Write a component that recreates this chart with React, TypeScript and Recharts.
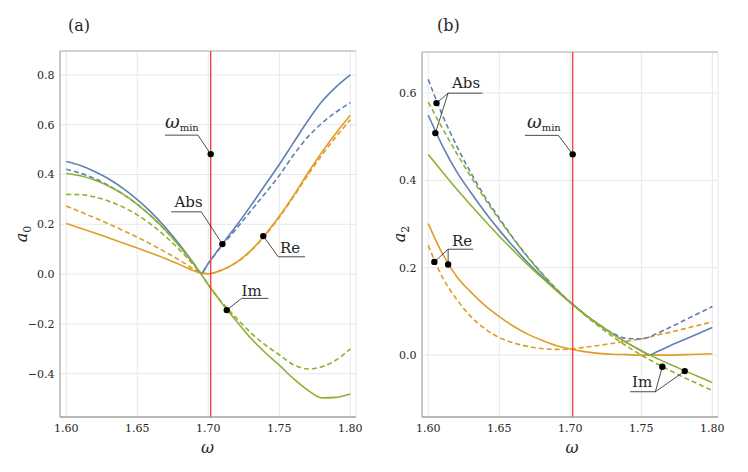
import React from "react";
import { LineChart, Line, XAxis, YAxis, CartesianGrid, ReferenceLine, ReferenceDot } from "recharts";

const BLUE = "#5e81b5";
const ORANGE = "#e19c24";
const GREEN = "#8fb131";
const FRAME = "#9c9c9c";
const RED = "#f23a3a";
const INK = "#262626";
const SERIF = "\"DejaVu Serif\"";

const omegaMin = 1.7017;

// panel (a): a0
const omegaA = [1.6, 1.61, 1.62, 1.63, 1.64, 1.65, 1.66, 1.67, 1.68, 1.69, 1.695, 1.7, 1.71, 1.72, 1.73, 1.74, 1.75, 1.76, 1.77, 1.78, 1.79, 1.8];
const reSolidA = [0.203, 0.184, 0.165, 0.145, 0.125, 0.105, 0.084, 0.062, 0.038, 0.013, 0.004, 0.001, 0.017, 0.048, 0.095, 0.158, 0.232, 0.315, 0.405, 0.49, 0.567, 0.638];
const reDashedA = [0.273, 0.25, 0.226, 0.201, 0.175, 0.148, 0.119, 0.088, 0.055, 0.02, 0.006, 0.001, 0.017, 0.047, 0.093, 0.155, 0.228, 0.31, 0.397, 0.478, 0.552, 0.62];
const imSolidA = [0.404, 0.395, 0.378, 0.353, 0.321, 0.28, 0.232, 0.175, 0.111, 0.039, 0.0, -0.043, -0.12, -0.19, -0.258, -0.315, -0.366, -0.42, -0.466, -0.497, -0.495, -0.482];
const imDashedA = [0.32, 0.319, 0.31, 0.293, 0.269, 0.238, 0.198, 0.151, 0.096, 0.034, 0.0, -0.043, -0.116, -0.178, -0.236, -0.284, -0.324, -0.364, -0.381, -0.372, -0.345, -0.3];
const absSolidA = [0.452, 0.436, 0.412, 0.382, 0.344, 0.299, 0.247, 0.186, 0.117, 0.041, 0.004, 0.043, 0.121, 0.196, 0.275, 0.358, 0.44, 0.528, 0.615, 0.693, 0.752, 0.8];
const absDashedA = [0.421, 0.405, 0.384, 0.355, 0.321, 0.28, 0.231, 0.175, 0.111, 0.039, 0.006, 0.043, 0.117, 0.184, 0.254, 0.324, 0.396, 0.478, 0.55, 0.606, 0.651, 0.689];

// panel (b): a2
const omegaB = [1.6, 1.61, 1.62, 1.63, 1.64, 1.65, 1.66, 1.67, 1.68, 1.69, 1.7, 1.71, 1.72, 1.73, 1.74, 1.75, 1.756, 1.76, 1.77, 1.78, 1.79, 1.8];
const reSolidB = [0.301, 0.232, 0.18, 0.144, 0.113, 0.088, 0.066, 0.048, 0.034, 0.022, 0.014, 0.008, 0.004, 0.002, 0.001, 0.0, 0.0, 0.0, 0.0, 0.001, 0.002, 0.003];
const reDashedB = [0.251, 0.178, 0.128, 0.088, 0.06, 0.04, 0.028, 0.02, 0.015, 0.013, 0.0135, 0.018, 0.022, 0.027, 0.032, 0.037, 0.041, 0.045, 0.052, 0.06, 0.068, 0.076];
const imSolidB = [0.459, 0.419, 0.38, 0.343, 0.307, 0.272, 0.239, 0.207, 0.177, 0.148, 0.12, 0.094, 0.07, 0.048, 0.028, 0.01, 0.0, -0.006, -0.021, -0.035, -0.049, -0.063];
const imDashedB = [0.579, 0.519, 0.462, 0.408, 0.357, 0.31, 0.266, 0.224, 0.186, 0.151, 0.12, 0.092, 0.066, 0.042, 0.02, 0.0, -0.011, -0.018, -0.035, -0.051, -0.066, -0.081];
const absSolidB = [0.549, 0.479, 0.42, 0.372, 0.327, 0.286, 0.248, 0.212, 0.18, 0.15, 0.121, 0.094, 0.07, 0.048, 0.028, 0.01, 0.0, 0.006, 0.021, 0.035, 0.049, 0.063];
const absDashedB = [0.631, 0.549, 0.479, 0.417, 0.362, 0.313, 0.267, 0.225, 0.187, 0.152, 0.121, 0.094, 0.07, 0.05, 0.038, 0.037, 0.042, 0.048, 0.063, 0.079, 0.095, 0.111];

// ticks
const xMajor = [1.6, 1.65, 1.7, 1.75, 1.8];
const xMinor = [1.6, 1.61, 1.62, 1.63, 1.64, 1.65, 1.66, 1.67, 1.68, 1.69, 1.7, 1.71, 1.72, 1.73, 1.74, 1.75, 1.76, 1.77, 1.78, 1.79, 1.8];
const yMajorA = [-0.4, -0.2, 0, 0.2, 0.4, 0.6, 0.8];
const yMinorA = [-0.55, -0.5, -0.45, -0.4, -0.35, -0.3, -0.25, -0.2, -0.15, -0.1, -0.05, 0, 0.05, 0.1, 0.15, 0.2, 0.25, 0.3, 0.35, 0.4, 0.45, 0.5, 0.55, 0.6, 0.65, 0.7, 0.75, 0.8, 0.85];
const yMajorB = [0, 0.2, 0.4, 0.6];
const yMinorB = [-0.1, -0.05, 0, 0.05, 0.1, 0.15, 0.2, 0.25, 0.3, 0.35, 0.4, 0.45, 0.5, 0.55, 0.6, 0.65];

// callout dots and leader segments, in data units
const dotsA = [[omegaMin, 0.482], [1.7099, 0.1205], [1.7387, 0.1526], [1.713, -0.1446]];
const segsA = [
  [omegaMin, 0.482, 1.6927, 0.558], [1.6927, 0.558, 1.6695, 0.558],
  [1.7099, 0.1205, 1.6951, 0.25], [1.6951, 0.25, 1.6739, 0.25],
  [1.7387, 0.1526, 1.7493, 0.0695], [1.7493, 0.0695, 1.7681, 0.0695],
  [1.713, -0.1446, 1.7235, -0.0976], [1.7235, -0.0976, 1.7423, -0.0976],
];
const dotsB = [[omegaMin, 0.4594], [1.6058, 0.5767], [1.605, 0.5081], [1.6043, 0.2133], [1.614, 0.2073], [1.7648, -0.0267], [1.7806, -0.0366]];
const segsB = [
  [omegaMin, 0.4594, 1.6916, 0.5029], [1.6916, 0.5029, 1.6681, 0.5029],
  [1.6058, 0.5767, 1.614, 0.5995], [1.605, 0.5081, 1.614, 0.5995], [1.614, 0.5995, 1.6382, 0.5995],
  [1.6043, 0.2133, 1.614, 0.2423], [1.614, 0.2073, 1.614, 0.2423], [1.614, 0.2423, 1.6317, 0.2423],
  [1.7648, -0.0267, 1.7599, -0.0839], [1.7806, -0.0366, 1.7599, -0.0839], [1.7599, -0.0839, 1.7422, -0.0839],
];

const xDomain = [1.5956, 1.804];

const buildRows = (w: number[], reS: number[], reD: number[], imS: number[], imD: number[], absS: number[], absD: number[]) =>
  w.map((v, i) => ({ w: v, reS: reS[i], reD: reD[i], imS: imS[i], imD: imD[i], absS: absS[i], absD: absD[i] }));

const rowsA = buildRows(omegaA, reSolidA, reDashedA, imSolidA, imDashedA, absSolidA, absDashedA);
const rowsB = buildRows(omegaB, reSolidB, reDashedB, imSolidB, imDashedB, absSolidB, absDashedB);

const fmtX = (v: number) => v.toFixed(2);
const fmtY = (v: number) => (v < -1e-9 ? "\u2212" : "") + Math.abs(v).toFixed(1);
const tickFont = { fontSize: 11, fill: INK, fontFamily: SERIF };

const series = [
  { key: "reD", color: ORANGE, dash: "5 3" },
  { key: "reS", color: ORANGE, dash: undefined },
  { key: "absD", color: BLUE, dash: "5 3" },
  { key: "absS", color: BLUE, dash: undefined },
  { key: "imD", color: GREEN, dash: "5 3" },
  { key: "imS", color: GREEN, dash: undefined },
];

function Panel({ left, rows, yDomain, yMajor, yMinor, margin, dots, segs }: any) {
  const common = { type: "number" as const, domain: xDomain, allowDataOverflow: true, dataKey: "w" };
  const ycommon = { type: "number" as const, domain: yDomain, allowDataOverflow: true };
  return (
    <div style={{ position: "absolute", left, top: 0 }}>
      <LineChart width={374} height={472} data={rows} margin={margin}>
        <CartesianGrid xAxisId="x" yAxisId="y" stroke="#e8e8e8" />
        <CartesianGrid xAxisId="x" yAxisId="yz" vertical={false} stroke="#b4b4b4" />

        <XAxis xAxisId="x" {...common} ticks={xMajor} interval={0} tickFormatter={fmtX} height={30}
          tickSize={0} tickMargin={7} tickLine={false} axisLine={{ stroke: FRAME }} tick={tickFont} />
        <XAxis xAxisId="xbM" {...common} ticks={xMajor} interval={0} mirror height={0} tick={false}
          tickSize={6} axisLine={false} tickLine={{ stroke: FRAME }} />
        <XAxis xAxisId="xbm" {...common} ticks={xMinor} interval={0} mirror height={0} tick={false}
          tickSize={3} axisLine={false} tickLine={{ stroke: FRAME }} />
        <XAxis xAxisId="xtM" {...common} orientation="top" ticks={xMajor} interval={0} mirror height={0} tick={false}
          tickSize={6} axisLine={{ stroke: FRAME }} tickLine={{ stroke: FRAME }} />
        <XAxis xAxisId="xtm" {...common} orientation="top" ticks={xMinor} interval={0} mirror height={0} tick={false}
          tickSize={3} axisLine={false} tickLine={{ stroke: FRAME }} />

        <YAxis yAxisId="y" {...ycommon} ticks={yMajor} interval={0} tickFormatter={fmtY} width={40}
          tickSize={0} tickMargin={5.5} tickLine={false} axisLine={{ stroke: FRAME }} tick={tickFont} />
        <YAxis yAxisId="ylM" {...ycommon} ticks={yMajor} interval={0} mirror width={0} tick={false}
          tickSize={6} axisLine={false} tickLine={{ stroke: FRAME }} />
        <YAxis yAxisId="ylm" {...ycommon} ticks={yMinor} interval={0} mirror width={0} tick={false}
          tickSize={3} axisLine={false} tickLine={{ stroke: FRAME }} />
        <YAxis yAxisId="yrM" {...ycommon} orientation="right" ticks={yMajor} interval={0} mirror width={0} tick={false}
          tickSize={6} axisLine={{ stroke: FRAME }} tickLine={{ stroke: FRAME }} />
        <YAxis yAxisId="yrm" {...ycommon} orientation="right" ticks={yMinor} interval={0} mirror width={0} tick={false}
          tickSize={3} axisLine={false} tickLine={{ stroke: FRAME }} />
        <YAxis yAxisId="yz" {...ycommon} ticks={[0]} mirror width={0} tick={false} tickLine={false} axisLine={false} />

        {series.map((s) => (
          <Line key={s.key} xAxisId="x" yAxisId="y" dataKey={s.key} type="monotone" stroke={s.color}
            strokeWidth={1.6} strokeDasharray={s.dash} dot={false} isAnimationActive={false} />
        ))}

        <ReferenceLine xAxisId="x" yAxisId="y" x={omegaMin} stroke={RED} strokeWidth={1.3} />

        {segs.map((s: number[], i: number) => (
          <ReferenceLine key={"s" + i} xAxisId="x" yAxisId="y" stroke="#1e1e1e" strokeWidth={0.8}
            segment={[{ x: s[0], y: s[1] }, { x: s[2], y: s[3] }]} />
        ))}
        {dots.map((d: number[], i: number) => (
          <ReferenceDot key={"d" + i} xAxisId="x" yAxisId="y" x={d[0]} y={d[1]} r={3.2} fill="#000" stroke="none" />
        ))}
      </LineChart>
    </div>
  );
}

function OmegaMin({ x, y }: { x: number; y: number }) {
  return (
    <text x={x} y={y} fill={INK}>
      <tspan fontSize={18} fontStyle="italic">ω</tspan>
      <tspan fontSize={10} dy={3}>min</tspan>
    </text>
  );
}

function YLabel({ x, y, sub }: { x: number; y: number; sub: string }) {
  return (
    <text transform={`translate(${x},${y}) rotate(-90)`} textAnchor="middle" fill={INK}>
      <tspan fontSize={16} fontStyle="italic">a</tspan>
      <tspan fontSize={11} dy={4}>{sub}</tspan>
    </text>
  );
}

export default function App() {
  const lab = { fill: INK, fontSize: 15 };
  return (
    <div style={{ position: "absolute", left: 0, top: 0, width: 748, height: 472, background: "#fff" }}>
      <Panel left={0} rows={rowsA} yDomain={[-0.574, 0.896]} yMajor={yMajorA} yMinor={yMinorA}
        margin={{ top: 51, right: 18, bottom: 25, left: 20 }} dots={dotsA} segs={segsA} />
      <Panel left={374} rows={rowsB} yDomain={[-0.1417, 0.6937]} yMajor={yMajorB} yMinor={yMinorB}
        margin={{ top: 52, right: 30, bottom: 25, left: 8 }} dots={dotsB} segs={segsB} />
      <svg width={748} height={472} style={{ position: "absolute", left: 0, top: 0, pointerEvents: "none" }} fontFamily={SERIF}>
        <text x={68} y={30.5} fontSize={16} fill={INK}>(a)</text>
        <text x={437} y={30.5} fontSize={16} fill={INK}>(b)</text>
        <text x={207.5} y={453} fontSize={16} fontStyle="italic" textAnchor="middle" fill={INK}>ω</text>
        <text x={572} y={453} fontSize={16} fontStyle="italic" textAnchor="middle" fill={INK}>ω</text>
        <YLabel x={27} y={234} sub="0" />
        <YLabel x={405} y={234} sub="2" />
        <OmegaMin x={165} y={128} />
        <OmegaMin x={527} y={128} />
        <text x={174.5} y={206.5} {...lab}>Abs</text>
        <text x={280} y={253} {...lab}>Re</text>
        <text x={241.5} y={296} {...lab}>Im</text>
        <text x={452} y={88} {...lab}>Abs</text>
        <text x={452} y={246} {...lab}>Re</text>
        <text x={632} y={386.5} {...lab}>Im</text>
      </svg>
    </div>
  );
}
